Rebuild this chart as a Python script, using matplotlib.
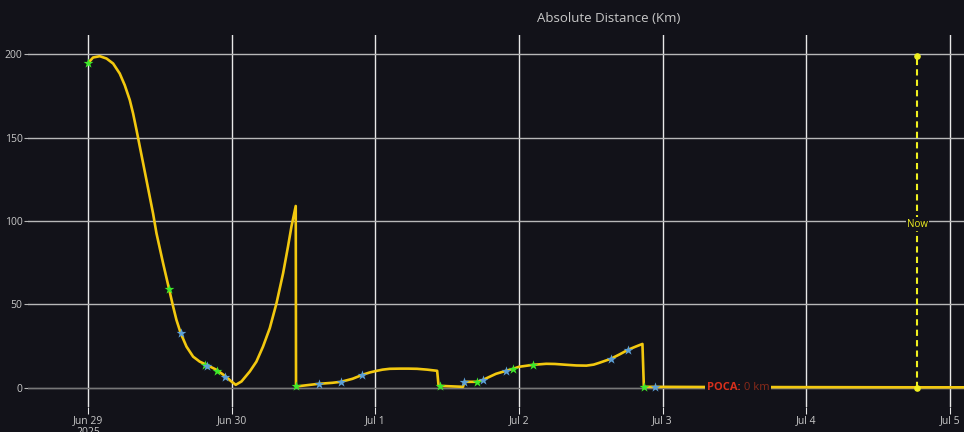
import matplotlib
matplotlib.use("Agg")
import matplotlib.pyplot as plt
import pandas as pd

# ---- data (days after 2025-06-29 00:00, distance km) ----
base = pd.Timestamp("2025-06-29")
curve_days = [0.0, 0.033, 0.080, 0.127, 0.173, 0.219, 0.254, 0.289, 0.312, 0.336, 0.359, 0.382,
              0.405, 0.428, 0.451, 0.475, 0.521, 0.563, 0.591, 0.614, 0.644, 0.684, 0.730, 0.776,
              0.823, 0.893, 0.951, 0.997, 1.027, 1.067, 1.125, 1.171, 1.217, 1.264, 1.311, 1.357,
              1.391, 1.415, 1.445,
              1.447, 1.605, 1.70, 1.76, 1.84, 1.91, 1.96, 2.01, 2.05, 2.10, 2.17, 2.23, 2.29,
              2.36, 2.43,
              2.44, 2.61, 2.62, 2.71, 2.75, 2.84, 2.91, 2.96, 3.00, 3.10, 3.19, 3.25, 3.33, 3.40,
              3.47, 3.52, 3.56, 3.64, 3.70, 3.76, 3.81, 3.86,
              3.87, 3.945, 4.28, 5.0, 5.78, 6.2]
curve_km = [194.8, 198.0, 198.8, 197.4, 194.4, 188.4, 181.4, 172.5, 164.5, 154.5, 144.5, 134.6,
            124.6, 114.6, 104.6, 92.6, 74.7, 59.1, 48.7, 40.7, 32.7, 24.7, 18.7, 15.7,
            13.8, 10.8, 7.2, 3.8, 1.8, 3.8, 9.8, 15.7, 24.7, 35.7, 50.7, 68.7,
            84.6, 96.6, 109.0,
            0.8, 2.4, 3.0, 3.6, 5.4, 7.8, 9.2, 10.2, 10.9, 11.4, 11.5, 11.5, 11.4,
            10.9, 10.2,
            1.2, 0.6, 3.6, 3.6, 4.8, 8.4, 10.2, 11.4, 12.6, 13.8, 14.4, 14.3, 13.8, 13.4,
            13.3, 13.9, 15.0, 17.4, 20.0, 22.8, 24.6, 26.3,
            0.6, 0.6, 0.5, 0.4, 0.3, 0.3]

green_days = [0.0, 0.563, 0.81, 0.90, 1.45, 2.45, 2.71, 2.96, 3.10, 3.87]
green_km = [194.8, 59.1, 13.8, 10.2, 0.8, 1.2, 3.6, 11.4, 13.8, 0.6]

blue_days = [0.644, 0.83, 0.955, 1.605, 1.76, 1.91, 2.62, 2.75, 2.91, 3.64, 3.76, 3.945]
blue_km = [32.7, 13.2, 6.6, 2.4, 3.6, 7.8, 3.6, 4.8, 10.2, 17.4, 22.8, 0.6]

now_day = 5.776
now_range = [0, 199]
poca_day = 4.565
poca_km = 0

tick_days = [0, 1, 2, 3, 4, 5, 6]
tick_labels = ["Jun 29\n2025", "Jun 30", "Jul 1", "Jul 2", "Jul 3", "Jul 4", "Jul 5"]
ytick_vals = [0, 50, 100, 150, 200]

def to_dt(days):
    return [base + pd.Timedelta(days=d) for d in days]

BG = "#121219"
plt.rcParams['font.family'] = ['Open Sans', 'DejaVu Sans']

fig = plt.figure(figsize=(9.64, 4.32), dpi=100, facecolor=BG)
ax = fig.add_axes([28 / 964, 1 - 407 / 432, 1 - 28 / 964, (407 - 35) / 432])
ax.set_facecolor(BG)

ax.plot(to_dt(curve_days), curve_km, color="#f2c80f", lw=1.9, zorder=3,
        solid_joinstyle="round")
ax.scatter(to_dt(green_days), green_km, marker="*", s=55, color="#3ee82a", zorder=4, linewidths=0)
ax.scatter(to_dt(blue_days), blue_km, marker="*", s=55, color="#5c9fd6", zorder=4, linewidths=0)

# Now line
nd = to_dt([now_day, now_day])
ax.plot(nd, now_range, color="#f0f020", lw=1.5, ls=(0, (3, 2)), zorder=5)
ax.scatter(nd, now_range, color="#f0f020", s=14, zorder=6)
ax.text(to_dt([now_day])[0], 98, "Now", color="#f0f020", fontsize=7, ha="center", va="center",
        zorder=7, bbox=dict(facecolor=BG, edgecolor="none", pad=1))

# POCA label
ax.text(to_dt([poca_day])[0], poca_km, "POCA: ", color="#d8301c", fontsize=8, fontweight="bold",
        ha="right", va="center", zorder=7, bbox=dict(facecolor=BG, edgecolor="none", pad=1.5))
ax.text(to_dt([poca_day])[0], poca_km, "0 km", color="#8a2a1a", fontsize=8,
        ha="left", va="center", zorder=7, bbox=dict(facecolor=BG, edgecolor="none", pad=1.5))

ax.set_xlim(base + pd.Timedelta(days=-0.42), base + pd.Timedelta(days=6.1))
ax.set_ylim(-11.5, 211.5)
ax.set_xticks(to_dt(tick_days))
ax.set_xticklabels(tick_labels)
ax.set_yticks(ytick_vals)
ax.set_yticklabels([str(v) for v in ytick_vals])

ax.grid(axis="x", color="#e8e8e8", lw=1.0, zorder=1)
ax.grid(axis="y", color="#b8b8b8", lw=1.0, zorder=1)
ax.axhline(0, color="#777777", lw=0.8, zorder=2)
for s in ax.spines.values():
    s.set_visible(False)
ax.tick_params(axis="x", colors="#e8e8e8", length=5, labelcolor="#c8c8c8", labelsize=7.5, pad=1)
ax.tick_params(axis="y", colors="#b8b8b8", length=3, labelcolor="#c8c8c8", labelsize=7.5, pad=1)
for lbl in ax.get_xticklabels():
    lbl.set_linespacing(1.1)

fig.text(609 / 964, 1 - 18 / 432, "Absolute Distance (Km)", color="#c8c8c8", fontsize=9.5,
         ha="center", va="center")

fig.savefig("out.png", dpi=100, facecolor=BG)
